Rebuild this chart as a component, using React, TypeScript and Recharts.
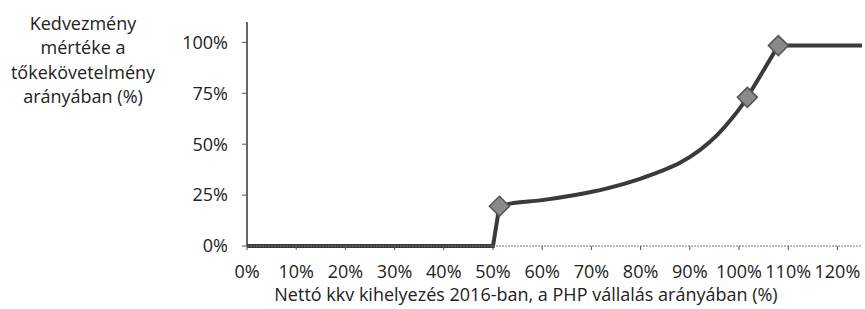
import React from 'react';
import { LineChart, Line, XAxis, YAxis } from 'recharts';

// x: nettó kkv kihelyezés (% of PHP vállalás), y: kedvezmény (%)
const stepX = [0, 50, 51.3];
const stepY = [0, 0, 19.5];
const curveX = [51.3, 53.5, 59.6, 66.4, 73.2, 79.9, 84.0, 88.1, 92.1, 95.5, 98.2, 100.3, 101.7];
const curveY = [19.5, 20.8, 22.4, 24.9, 28.3, 33.0, 36.6, 41.0, 47.2, 54.3, 61.6, 68.1, 73];
const capX = [101.7, 108, 125];
const capY = [73, 98.4, 98.4];
const markerPoints = [51.3, 101.7, 108];

const xTicks = [0, 10, 20, 30, 40, 50, 60, 70, 80, 90, 100, 110, 120];
const yTicks = [0, 25, 50, 75, 100];

const yTitle = ['Kedvezmény', 'mértéke a', 'tőkekövetelmény', 'arányában (%)'];
const xTitle = 'Nettó kkv kihelyezés 2016-ban, a PHP vállalás arányában (%)';

const toRows = (xs: number[], ys: number[]) => xs.map((x, i) => ({ x, y: ys[i] }));
const stepData = toRows(stepX, stepY);
const curveData = toRows(curveX, curveY);
const capData = toRows(capX, capY);

const font = '"Open Sans", sans-serif';
const lineColor = '#3a3a3a';

const Diamond = (props: any) => {
  const { cx, cy, payload, index } = props;
  if (!markerPoints.includes(payload.x)) return <g key={`d-${index}`} />;
  const r = 10;
  return (
    <path
      key={`d-${index}`}
      d={`M${cx},${cy - r} L${cx + r},${cy} L${cx},${cy + r} L${cx - r},${cy} Z`}
      fill="#8a8a8a"
      stroke="#555"
      strokeWidth={1.5}
    />
  );
};

const YTitle = () => (
  <text x={83} y={30} textAnchor="middle" fontFamily={font} fontSize={18} fill="#222">
    {yTitle.map((line, i) => (
      <tspan key={i} x={83} dy={i === 0 ? 0 : 24.3}>
        {line}
      </tspan>
    ))}
  </text>
);

const XTitle = () => (
  <text x={526} y={301} textAnchor="middle" fontFamily={font} fontSize={18} fill="#222">
    {xTitle}
  </text>
);

export default function App() {
  return (
    <div style={{ position: 'absolute', left: 0, top: 0, background: '#fff' }}>
      <LineChart width={865} height={309} margin={{ top: 22, right: 3, left: 0, bottom: 23 }}>
        <XAxis
          dataKey="x"
          type="number"
          domain={[0, 125]}
          ticks={xTicks}
          tickFormatter={(v) => `${v}%`}
          interval={0}
          height={40}
          tickSize={4}
          tickMargin={15}
          allowDuplicatedCategory={false}
          axisLine={{ stroke: '#777', strokeDasharray: '2 1' }}
          tickLine={{ stroke: '#555' }}
          tick={{ fill: '#222', fontSize: 18, fontFamily: font }}
          label={{ content: <XTitle /> }}
        />
        <YAxis
          type="number"
          domain={[0, 110]}
          ticks={yTicks}
          tickFormatter={(v) => `${v}%`}
          width={247}
          tickSize={5}
          tickMargin={14}
          axisLine={{ stroke: '#333', strokeWidth: 1.5 }}
          tickLine={{ stroke: '#555' }}
          tick={{ fill: '#222', fontSize: 18, fontFamily: font }}
          label={{ content: <YTitle /> }}
        />
        <Line data={stepData} type="linear" dataKey="y" stroke={lineColor} strokeWidth={4} dot={false} activeDot={false} isAnimationActive={false} />
        <Line data={curveData} type="monotone" dataKey="y" stroke={lineColor} strokeWidth={4} dot={false} activeDot={false} isAnimationActive={false} />
        <Line data={capData} type="linear" dataKey="y" stroke={lineColor} strokeWidth={4} dot={false} activeDot={false} isAnimationActive={false} />
        <Line data={[...stepData, ...capData]} type="linear" dataKey="y" stroke="none" dot={Diamond} activeDot={false} isAnimationActive={false} />
      </LineChart>
    </div>
  );
}
